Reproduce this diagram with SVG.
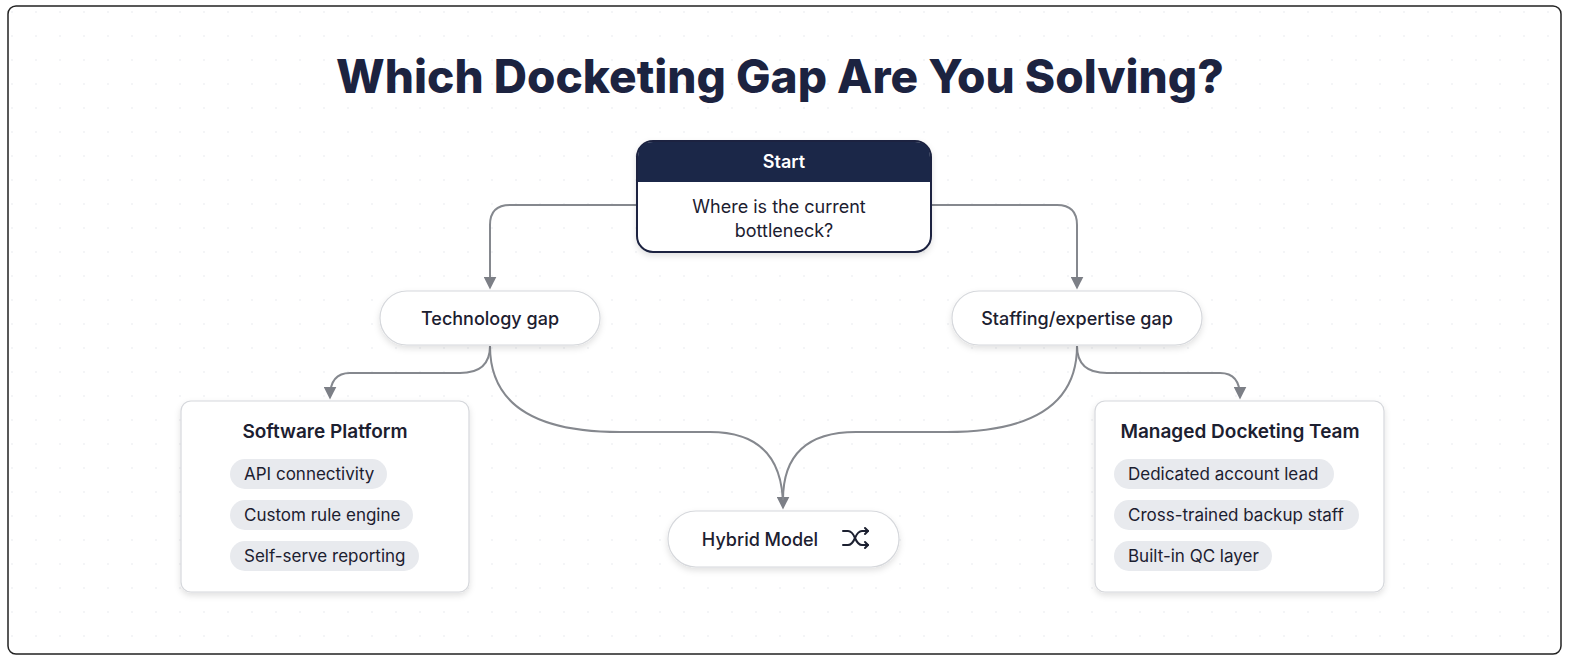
<svg xmlns="http://www.w3.org/2000/svg" width="1584" height="672" viewBox="0 0 1584 672">
<defs>
<pattern id="dots" width="24" height="24" patternUnits="userSpaceOnUse"><circle cx="12" cy="12" r="0.8" fill="#e6e8ec"/></pattern>
<filter id="sh" x="-20%" y="-20%" width="140%" height="150%"><feDropShadow dx="0" dy="3" stdDeviation="3" flood-color="#000" flood-opacity="0.12"/></filter>
<marker id="arr" viewBox="0 0 10 10" refX="8" refY="5" markerWidth="13" markerHeight="13" markerUnits="userSpaceOnUse" orient="auto"><path d="M0,0 L10,5 L0,10 Z" fill="#7c7f86"/></marker>
<style>
text{font-family:Inter,"Noto Sans",sans-serif;fill:#1c2030}
.card{fill:#fff;stroke:#d6d8dc;stroke-width:1.2;filter:url(#sh)}
.chip{fill:#e8eaee}
.lbl{font-size:18px;font-weight:500}
.chipt{font-size:17px}
.conn path{fill:none;stroke:#85888e;stroke-width:2}
</style>
</defs>
<rect x="0" y="0" width="1584" height="672" fill="#fff"/>
<rect x="8" y="6" width="1553" height="648" rx="8" fill="url(#dots)" stroke="#222" stroke-width="1.5"/>
<text x="780" y="93" text-anchor="middle" font-size="46" font-weight="800" style="fill:#1c2340">Which Docketing Gap Are You Solving?</text>
<g class="conn">
<path d="M637,205 H510 Q490,205 490,225 V287" marker-end="url(#arr)"/>
<path d="M931,205 H1057 Q1077,205 1077,225 V287" marker-end="url(#arr)"/>
<path d="M490,346 Q490,373 460,373 H350 Q330,373 330,397" marker-end="url(#arr)"/>
<path d="M1077,346 Q1077,373 1107,373 H1220 Q1240,373 1240,397" marker-end="url(#arr)"/>
<path d="M490,346 Q490,432 620,432 H710 Q783,432 783,507" marker-end="url(#arr)"/>
<path d="M1077,346 Q1077,432 947,432 H856 Q783,432 783,500"/>
</g>
<g id="start">
<rect x="637" y="141" width="294" height="111" rx="16" fill="#fff" stroke="#1c2340" stroke-width="2" filter="url(#sh)"/>
<path d="M638,182 V157 Q638,142 653,142 H915 Q930,142 930,157 V182 Z" fill="#1b2748"/>
<text x="784" y="168" text-anchor="middle" font-size="18" font-weight="600" style="fill:#fff">Start</text>
<text x="779" y="213" text-anchor="middle" font-size="18">Where is the current</text>
<text x="784" y="237" text-anchor="middle" font-size="18">bottleneck?</text>
</g>
<g id="tech"><rect class="card" x="380" y="291" width="220" height="54" rx="27"/><text class="lbl" x="490" y="325" text-anchor="middle">Technology gap</text></g>
<g id="staff"><rect class="card" x="952" y="291" width="250" height="54" rx="27"/><text class="lbl" x="1077" y="325" text-anchor="middle">Staffing/expertise gap</text></g>
<g id="software">
<rect class="card" x="181" y="401" width="288" height="191" rx="10"/>
<text x="325" y="438" text-anchor="middle" font-size="19" font-weight="600">Software Platform</text>
<rect class="chip" x="230" y="459" width="157" height="30" rx="15"/><text class="chipt" x="244" y="480">API connectivity</text>
<rect class="chip" x="230" y="500" width="183" height="30" rx="15"/><text class="chipt" x="244" y="521">Custom rule engine</text>
<rect class="chip" x="230" y="541" width="189" height="30" rx="15"/><text class="chipt" x="244" y="562">Self-serve reporting</text>
</g>
<g id="managed">
<rect class="card" x="1095" y="401" width="289" height="191" rx="10"/>
<text x="1240" y="438" text-anchor="middle" font-size="19" font-weight="600">Managed Docketing Team</text>
<rect class="chip" x="1114" y="459" width="220" height="30" rx="15"/><text class="chipt" x="1128" y="480">Dedicated account lead</text>
<rect class="chip" x="1114" y="500" width="245" height="30" rx="15"/><text class="chipt" x="1128" y="521">Cross-trained backup staff</text>
<rect class="chip" x="1114" y="541" width="158" height="30" rx="15"/><text class="chipt" x="1128" y="562">Built-in QC layer</text>
</g>
<g id="hybrid">
<rect class="card" x="668" y="511" width="231" height="56" rx="28"/>
<text class="lbl" x="760" y="546" text-anchor="middle" font-size="19">Hybrid Model</text>
<g fill="none" stroke="#1c2030" stroke-width="2" stroke-linecap="round" stroke-linejoin="round">
<path d="M843,531 H848 Q852,531 855,538 Q858,545 862,545 H868"/>
<path d="M843,545 H848 Q852,545 855,538 Q858,531 862,531 H868"/>
<path d="M865,528 L868,531 L865,534 M865,542 L868,545 L865,548"/>
</g>
</g>
</svg>
